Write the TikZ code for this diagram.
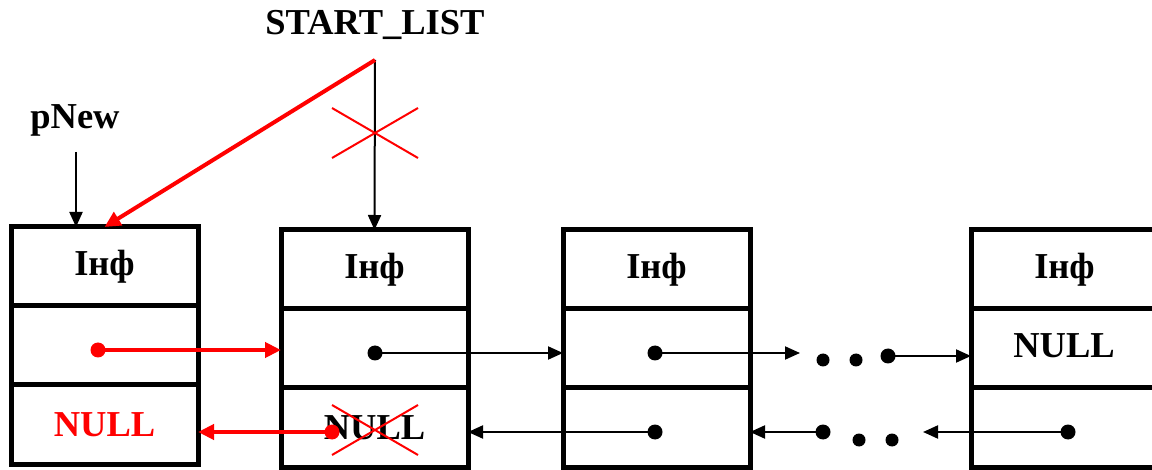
\documentclass[tikz,border=0pt]{standalone}
\usepackage{fontspec}
\setmainfont{Liberation Serif}
\usetikzlibrary{arrows.meta,positioning}

\begin{document}
\begin{tikzpicture}[x=1pt,y=-1pt,>={Triangle[length=15pt,width=13pt]},font=\fontsize{36.5}{40}\selectfont\bfseries]

	\tikzstyle{cell}=[
		rectangle,
		line width=5pt,
		draw=black,
		minimum width=187pt,
		minimum height=79pt,
		inner sep=0pt,
		outer sep=0pt
	]
	\tikzstyle{dot}=[circle, fill=black, inner sep=0pt, minimum size=15pt]
	\tikzstyle{smalldot}=[circle, fill=black, inner sep=0pt, minimum size=13pt]
	\tikzstyle{ptr}=[->, line width=2pt]
	\tikzstyle{newptr}=[-{Triangle[length=16pt,width=15pt]}, line width=4pt, red]
	\tikzstyle{cross}=[red, line width=2pt]

	\useasboundingbox (0,0) rectangle (1152,470);

	% list elements
	\node [cell] (A1) at (104.5,266.5) {Інф};
	\node [cell] (A2) [below=0pt of A1] {};
	\node [cell, text=red] (A3) [below=0pt of A2] {NULL};

	\node [cell] (B1) at (374.5,269.5) {Інф};
	\node [cell] (B2) [below=0pt of B1] {};
	\node [cell] (B3) [below=0pt of B2] {NULL};

	\node [cell] (C1) at (656.5,269.5) {Інф};
	\node [cell] (C2) [below=0pt of C1] {};
	\node [cell] (C3) [below=0pt of C2] {};

	\node [cell] (D1) at (1064.5,269.5) {Інф};
	\node [cell] (D2) [below=0pt of D1] {};
	\node [cell] (D3) [below=0pt of D2] {};
	\node (N) at (1064,346) {NULL};

	% pointers
	\node (S) at (375,25) {START\_LIST};
	\node (P) at (75,120) {pNew};
	\coordinate (s0) at (375,60);
	\coordinate (p0) at (76,152);

	\draw[ptr] (p0) -- (p0 |- A1.north);
	\draw[ptr] (s0) -- (B1.north);
	\draw[cross] (332,108) -- (418,158) (332,158) -- (418,108);
	\draw[line width=4pt, red, -{Triangle[length=16pt,width=15pt]}] (s0) -- (A1.north);

	% next links
	\node [dot] (b2) at (375,353) {};
	\node [dot] (c2) at (655,353) {};
	\coordinate (c2e) at (800,353);
	\node [smalldot] (e1) at (823,360) {};
	\node [smalldot] (e2) at (856,360) {};
	\node [dot] (e3) at (888,356) {};

	\draw[ptr] (b2.center) -- (b2.center -| C2.west);
	\draw[ptr] (c2.center) -- (c2e);
	\draw[ptr] (e3.center) -- (e3.center -| D2.west);

	% prev links
	\node [dot] (d3) at (1068,432) {};
	\coordinate (d3e) at (923,432);
	\node [smalldot] (f3) at (892,440) {};
	\node [smalldot] (f2) at (859,440) {};
	\node [dot] (f1) at (823,432) {};
	\node [dot] (c3) at (655,432) {};

	\draw[ptr] (d3.center) -- (d3e);
	\draw[ptr] (f1.center) -- (f1.center -| C3.east);
	\draw[ptr] (c3.center) -- (c3.center -| B3.east);

	% new element links
	\node [dot, fill=red] (a2) at (98,350) {};
	\node [dot, fill=red] (b3) at (332,432) {};
	\draw[newptr] (a2.center) -- (a2.center -| B2.west);
	\draw[newptr] (b3.center) -- (b3.center -| A3.east);
	\draw[cross] (332,405) -- (418,455) (332,455) -- (418,405);

\end{tikzpicture}
\end{document}
